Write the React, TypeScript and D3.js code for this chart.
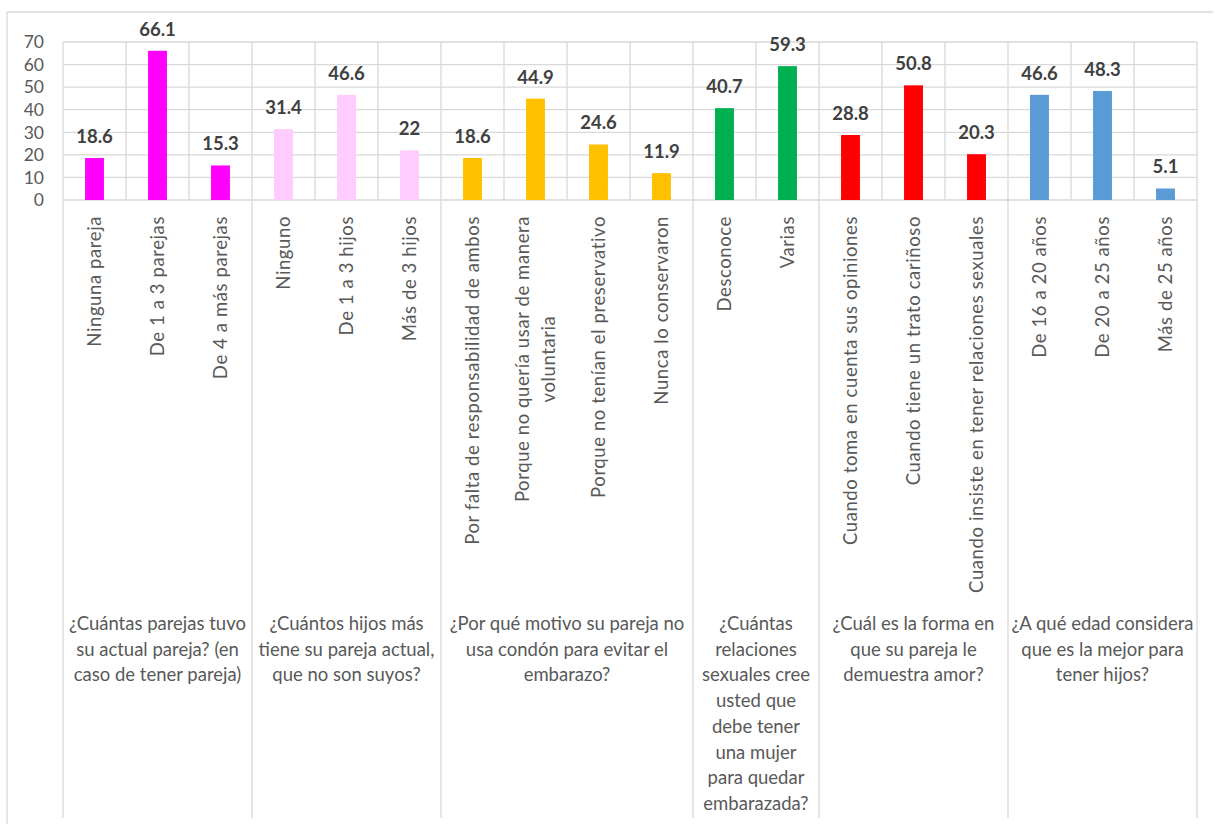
import React, { useEffect, useRef } from "react";
import * as d3 from "d3";

// Category labels (rotated under each bar); "\n" marks a wrapped line
const categories: string[] = [
  "Ninguna pareja",
  "De 1 a 3 parejas",
  "De 4 a más parejas",
  "Ninguno",
  "De 1 a 3 hijos",
  "Más de 3 hijos",
  "Por falta de responsabilidad de ambos",
  "Porque no quería usar de manera\nvoluntaria",
  "Porque no tenían el preservativo",
  "Nunca lo conservaron",
  "Desconoce",
  "Varias",
  "Cuando toma en cuenta sus opiniones",
  "Cuando tiene un trato cariñoso",
  "Cuando insiste en tener relaciones sexuales",
  "De 16 a 20 años",
  "De 20 a 25 años",
  "Más de 25 años",
];

// Percentages for each category
const values: number[] = [
  18.6, 66.1, 15.3, 31.4, 46.6, 22, 18.6, 44.9, 24.6, 11.9, 40.7, 59.3, 28.8,
  50.8, 20.3, 46.6, 48.3, 5.1,
];

// Question groups: label lines, number of categories, bar colour
const groupLabels: string[][] = [
  ["¿Cuántas parejas tuvo", "su actual pareja? (en", "caso de tener pareja)"],
  ["¿Cuántos hijos más", "tiene su pareja actual,", "que no son suyos?"],
  ["¿Por qué motivo su pareja no", "usa condón para evitar el", "embarazo?"],
  [
    "¿Cuántas",
    "relaciones",
    "sexuales cree",
    "usted que",
    "debe tener",
    "una mujer",
    "para quedar",
    "embarazada?",
  ],
  ["¿Cuál es la forma en", "que su pareja le", "demuestra amor?"],
  ["¿A qué edad considera", "que es la mejor para", "tener hijos?"],
];
const groupSizes: number[] = [3, 3, 4, 2, 3, 3];
const groupColors: string[] = [
  "#FF00FF",
  "#FFCCFF",
  "#FFC000",
  "#00B050",
  "#FF0000",
  "#5B9BD5",
];

const yTicks: number[] = [0, 10, 20, 30, 40, 50, 60, 70];

const W = 1215;
const H = 824;
const FONT = "Lato, 'Open Sans', sans-serif";
const GRID = "#d9d9d9";
const TEXT = "#595959";

export default function App() {
  const ref = useRef<SVGSVGElement | null>(null);

  useEffect(() => {
    const svg = d3.select(ref.current);
    svg.selectAll("*").remove();

    const plot = { left: 63, right: 1197, top: 42, bottom: 200 };
    const axisBottom = 818;

    const x = d3
      .scaleBand<number>()
      .domain(d3.range(categories.length))
      .range([plot.left, plot.right])
      .paddingInner(0)
      .paddingOuter(0);
    const y = d3.scaleLinear().domain([0, 70]).range([plot.bottom, plot.top]);
    const step = x.step();
    const barW = step * 0.3;

    // group index for each category
    const groupOf: number[] = [];
    groupSizes.forEach((n, g) => {
      for (let i = 0; i < n; i++) groupOf.push(g);
    });
    const groupStarts: number[] = [];
    let acc = 0;
    groupSizes.forEach((n) => {
      groupStarts.push(acc);
      acc += n;
    });

    // chart frame
    const frame = svg.append("g").attr("stroke", GRID).attr("stroke-width", 1.3);
    frame.append("line").attr("x1", 7).attr("x2", 1213).attr("y1", 12).attr("y2", 12);
    frame.append("line").attr("x1", 7).attr("x2", 7).attr("y1", 12).attr("y2", H);

    // grid
    const grid = svg.append("g").attr("stroke", GRID).attr("stroke-width", 1.3);
    grid
      .selectAll("line.h")
      .data(yTicks)
      .join("line")
      .attr("x1", plot.left)
      .attr("x2", plot.right)
      .attr("y1", (d) => y(d))
      .attr("y2", (d) => y(d));
    const boundaries = d3.range(categories.length + 1);
    grid
      .selectAll("line.v")
      .data(boundaries)
      .join("line")
      .attr("x1", (i) => plot.left + i * step)
      .attr("x2", (i) => plot.left + i * step)
      .attr("y1", plot.top)
      .attr("y2", (i) =>
        i === 0 || i === categories.length || groupStarts.includes(i)
          ? axisBottom
          : plot.bottom
      );

    // y axis labels
    svg
      .append("g")
      .selectAll("text")
      .data(yTicks)
      .join("text")
      .attr("x", 44)
      .attr("y", (d) => y(d))
      .attr("dy", "0.36em")
      .attr("text-anchor", "end")
      .attr("fill", TEXT)
      .attr("font-family", FONT)
      .attr("font-size", 17.5)
      .text((d) => d);

    // bars
    svg
      .append("g")
      .selectAll("rect")
      .data(values)
      .join("rect")
      .attr("x", (_, i) => (x(i) as number) + (step - barW) / 2)
      .attr("y", (d) => y(d))
      .attr("width", barW)
      .attr("height", (d) => y(0) - y(d))
      .attr("fill", (_, i) => groupColors[groupOf[i]]);

    // value labels
    svg
      .append("g")
      .selectAll("text")
      .data(values)
      .join("text")
      .attr("x", (_, i) => (x(i) as number) + step / 2)
      .attr("y", (d) => y(d) - 15)
      .attr("text-anchor", "middle")
      .attr("fill", "#404040")
      .attr("font-family", FONT)
      .attr("font-weight", "bold")
      .attr("font-size", 18.5)
      .text((d) => d);

    // rotated category labels, wrapped lines centred on each other
    const catTop = 216;
    const lineGap = 26;
    const catG = svg.append("g");
    categories.forEach((label, i) => {
      const lines = label.split("\n");
      const cx = (x(i) as number) + step / 2;
      const g = catG.append("g");
      const texts = lines.map((ln) =>
        g
          .append("text")
          .attr("fill", TEXT)
          .attr("font-family", FONT)
          .attr("font-size", 18.5)
          .attr("letter-spacing", 0.6)
          .attr("text-anchor", "middle")
          .attr("dy", "0.35em")
          .text(ln)
      );
      const widths = texts.map((t) => (t.node() as SVGTextElement).getComputedTextLength());
      const maxW = d3.max(widths) as number;
      const cy = catTop + maxW / 2;
      texts.forEach((t, k) => {
        const off = (k - (lines.length - 1) / 2) * lineGap;
        t.attr("transform", `translate(${cx + off},${cy}) rotate(-90)`);
      });
    });

    // question (group) labels
    const grpG = svg.append("g");
    groupLabels.forEach((lines, g) => {
      const x0 = plot.left + groupStarts[g] * step;
      const cx = x0 + (groupSizes[g] * step) / 2;
      lines.forEach((ln, k) => {
        grpG
          .append("text")
          .attr("x", cx)
          .attr("y", 630 + k * 25.7)
          .attr("text-anchor", "middle")
          .attr("fill", TEXT)
          .attr("font-family", FONT)
          .attr("font-size", 18.5)
          .text(ln);
      });
    });
  }, []);

  return (
    <svg
      ref={ref}
      width={W}
      height={H}
      style={{ position: "absolute", left: 0, top: 0, background: "#fff" }}
    />
  );
}
